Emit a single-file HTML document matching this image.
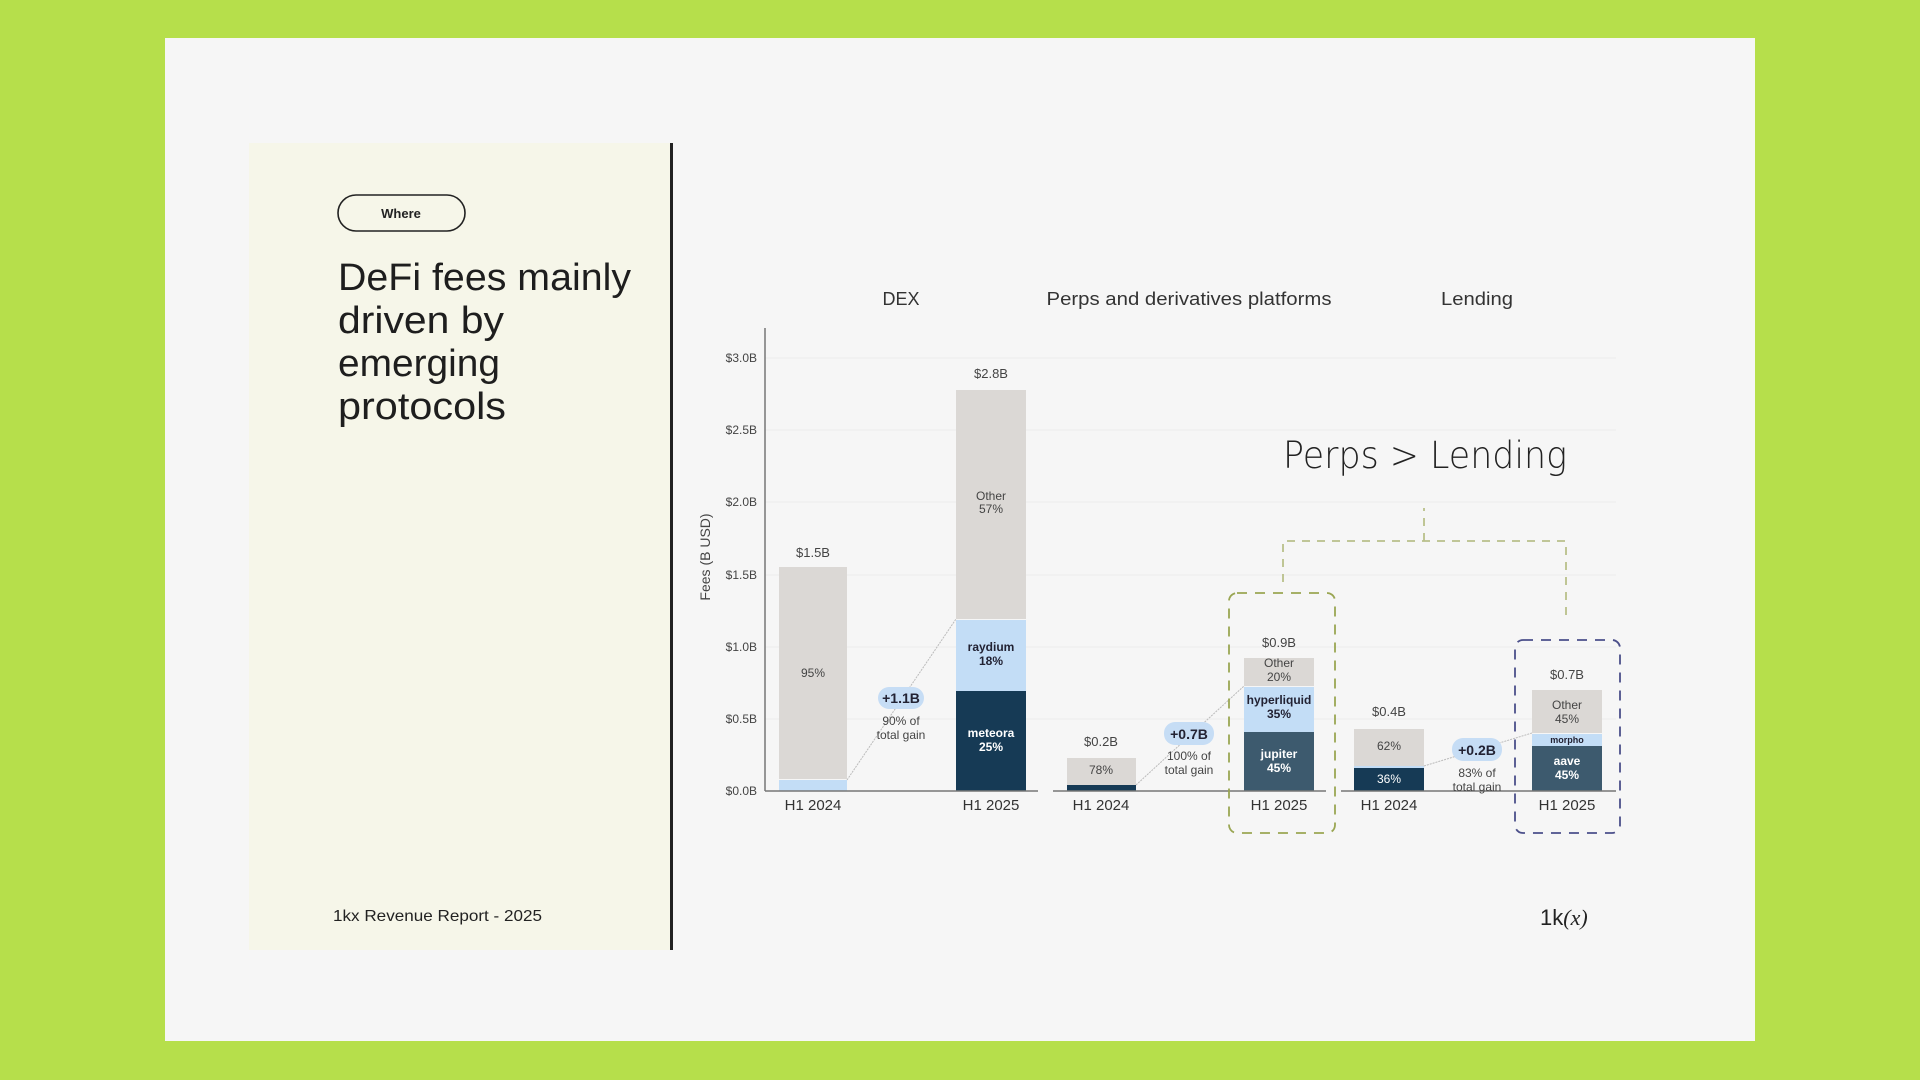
<!DOCTYPE html>
<html><head><meta charset="utf-8"><style>
html,body{margin:0;padding:0;width:1920px;height:1080px;overflow:hidden;background:#b6df4b;font-family:"Liberation Sans",sans-serif}
svg{position:absolute;left:0;top:0}
</style></head><body>
<svg width="1920" height="1080" viewBox="0 0 1920 1080" font-family="Liberation Sans, sans-serif">
<rect x="165" y="38" width="1590" height="1003" fill="#f6f6f6"/>
<rect x="249" y="143" width="422" height="807" fill="#f6f6e9"/>
<rect x="670" y="143" width="3" height="807" fill="#222"/>
<rect x="338" y="195" width="127" height="36" rx="18" fill="none" stroke="#222" stroke-width="1.6"/>
<text x="401" y="218" font-size="13" font-weight="bold" text-anchor="middle" fill="#222">Where</text>
<g font-size="38" fill="#1e1e1e">
<text x="338" y="290" textLength="293" lengthAdjust="spacingAndGlyphs">DeFi fees mainly</text>
<text x="338" y="333" textLength="166" lengthAdjust="spacingAndGlyphs">driven by</text>
<text x="338" y="376" textLength="162" lengthAdjust="spacingAndGlyphs">emerging</text>
<text x="338" y="419" textLength="168" lengthAdjust="spacingAndGlyphs">protocols</text>
</g>
<text x="333" y="921" font-size="16" fill="#222" textLength="209" lengthAdjust="spacingAndGlyphs">1kx Revenue Report  - 2025</text>
<text x="1540" y="925" font-size="22" fill="#222">1k<tspan font-style="italic" font-family="Liberation Serif, serif">(x)</tspan></text>

<g font-size="18" fill="#333" text-anchor="middle">
<text x="901" y="305">DEX</text>
<text x="1189" y="305" textLength="285" lengthAdjust="spacingAndGlyphs">Perps and derivatives platforms</text>
<text x="1477" y="305" textLength="72" lengthAdjust="spacingAndGlyphs">Lending</text>
</g>
<g stroke="#ececec" stroke-width="1">
<line x1="765" y1="358" x2="1616" y2="358"/><line x1="765" y1="430" x2="1616" y2="430"/>
<line x1="765" y1="502" x2="1616" y2="502"/><line x1="765" y1="575" x2="1616" y2="575"/>
<line x1="765" y1="647" x2="1616" y2="647"/><line x1="765" y1="719" x2="1616" y2="719"/>
</g>
<line x1="765" y1="328" x2="765" y2="791" stroke="#777" stroke-width="1.5"/>
<g font-size="12" fill="#444" text-anchor="end">
<text x="757" y="362">$3.0B</text><text x="757" y="434">$2.5B</text><text x="757" y="506">$2.0B</text>
<text x="757" y="579">$1.5B</text><text x="757" y="651">$1.0B</text><text x="757" y="723">$0.5B</text><text x="757" y="795">$0.0B</text>
</g>
<text transform="translate(710,557) rotate(-90)" font-size="14" fill="#444" text-anchor="middle">Fees (B USD)</text>
<rect x="779" y="567" width="68" height="212" fill="#dbd8d5"/>
<rect x="779" y="780" width="68" height="11" fill="#c3ddf6"/>
<rect x="956" y="390" width="70" height="229" fill="#dbd8d5"/>
<rect x="956" y="620" width="70" height="71" fill="#c3ddf6"/>
<rect x="956" y="691" width="70" height="100" fill="#163a55"/>
<rect x="1067" y="758" width="69" height="27" fill="#dbd8d5"/>
<rect x="1067" y="785" width="69" height="6" fill="#163a55"/>
<rect x="1244" y="658" width="70" height="28" fill="#dbd8d5"/>
<rect x="1244" y="687" width="70" height="45" fill="#c3ddf6"/>
<rect x="1244" y="732" width="70" height="59" fill="#3d5a6e"/>
<rect x="1354" y="729" width="70" height="37" fill="#dbd8d5"/>
<rect x="1354" y="766" width="70" height="2" fill="#c3ddf6"/>
<rect x="1354" y="768" width="70" height="23" fill="#163a55"/>
<rect x="1532" y="690" width="70" height="43" fill="#dbd8d5"/>
<rect x="1532" y="734" width="70" height="12" fill="#c3ddf6"/>
<rect x="1532" y="746" width="70" height="45" fill="#3d5a6e"/>
<g stroke="#777" stroke-width="1.5">
<line x1="765" y1="791" x2="1038" y2="791"/><line x1="1053" y1="791" x2="1326" y2="791"/><line x1="1341" y1="791" x2="1616" y2="791"/>
</g>
<g font-size="15" fill="#333" text-anchor="middle">
<text x="813" y="810">H1 2024</text><text x="991" y="810">H1 2025</text>
<text x="1101" y="810">H1 2024</text><text x="1279" y="810">H1 2025</text>
<text x="1389" y="810">H1 2024</text><text x="1567" y="810">H1 2025</text>
</g>
<g font-size="13" fill="#444" text-anchor="middle">
<text x="813" y="557">$1.5B</text><text x="991" y="378">$2.8B</text><text x="1101" y="746">$0.2B</text>
<text x="1279" y="647">$0.9B</text><text x="1389" y="716">$0.4B</text><text x="1567" y="679">$0.7B</text>
</g>
<g font-size="12" text-anchor="middle" fill="#444">
<text x="813" y="677">95%</text>
<text x="991" y="500">Other</text><text x="991" y="513">57%</text>
<text x="1101" y="774">78%</text>
<text x="1279" y="667">Other</text><text x="1279" y="681">20%</text>
<text x="1389" y="750">62%</text>
<text x="1567" y="709">Other</text><text x="1567" y="723">45%</text>
</g>
<g font-size="12" font-weight="bold" text-anchor="middle" fill="#223">
<text x="991" y="651">raydium</text><text x="991" y="665">18%</text>
<text x="1279" y="704">hyperliquid</text><text x="1279" y="718">35%</text>
<text x="1567" y="743" font-size="9">morpho</text>
</g>
<g font-size="12" font-weight="bold" text-anchor="middle" fill="#fff">
<text x="991" y="737">meteora</text><text x="991" y="751">25%</text>
<text x="1279" y="758">jupiter</text><text x="1279" y="772">45%</text>
<text x="1389" y="783" font-weight="normal">36%</text>
<text x="1567" y="765">aave</text><text x="1567" y="779">45%</text>
</g>
<g stroke="#bbb" stroke-width="1" stroke-dasharray="2,1">
<line x1="847" y1="780" x2="956" y2="619"/>
<line x1="1136" y1="785" x2="1244" y2="686"/>
<line x1="1424" y1="766" x2="1532" y2="733"/>
</g>
<g text-anchor="middle">
<rect x="878" y="687" width="46" height="22" rx="11" fill="#c6ddf5"/>
<text x="901" y="703" font-size="14" font-weight="bold" fill="#223">+1.1B</text>
<text x="901" y="725" font-size="12" fill="#444">90% of</text><text x="901" y="739" font-size="12" fill="#444">total gain</text>
<rect x="1164" y="722" width="50" height="23" rx="11" fill="#c6ddf5"/>
<text x="1189" y="739" font-size="14" font-weight="bold" fill="#223">+0.7B</text>
<text x="1189" y="760" font-size="12" fill="#444">100% of</text><text x="1189" y="774" font-size="12" fill="#444">total gain</text>
<rect x="1452" y="738" width="50" height="23" rx="11" fill="#c6ddf5"/>
<text x="1477" y="755" font-size="14" font-weight="bold" fill="#223">+0.2B</text>
<text x="1477" y="777" font-size="12" fill="#444">83% of</text><text x="1477" y="791" font-size="12" fill="#444">total gain</text>
</g>
<text x="1283" y="468" font-size="37" fill="#222" font-family="DejaVu Sans, sans-serif" font-weight="200" textLength="284" lengthAdjust="spacingAndGlyphs">Perps &gt; Lending</text>
<rect x="1229" y="593" width="106" height="240" rx="8" fill="none" stroke="#9aa653" stroke-width="1.8" stroke-dasharray="10,8"/>
<rect x="1515" y="640" width="105" height="193" rx="8" fill="none" stroke="#4b4f8a" stroke-width="1.8" stroke-dasharray="10,8"/>
<path d="M1283 582 V541 H1566 V620 M1424 541 V508" fill="none" stroke="#b9c08a" stroke-width="1.8" stroke-dasharray="8,7"/>
</svg>
</body></html>
